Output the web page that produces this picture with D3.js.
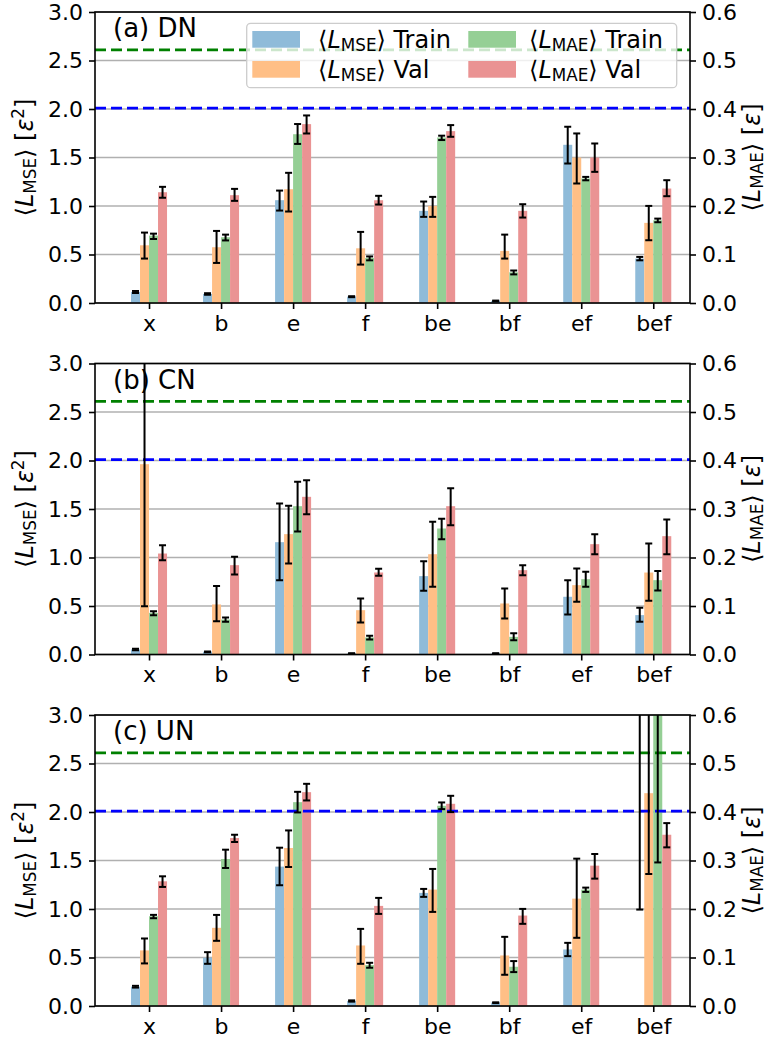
<!DOCTYPE html>
<html>
<head>
<meta charset="utf-8">
<script src="https://cdn.jsdelivr.net/npm/d3@7"></script>
<style>
  html, body { margin: 0; padding: 0; background: #ffffff; }
  svg { display: block; }
  text { font-family: "DejaVu Sans", sans-serif; fill: #000; }
</style>
</head>
<body>
<svg id="chart" width="769" height="1042"></svg>
<script>
// ---- data -------------------------------------------------------------
const categories = ["x", "b", "e", "f", "be", "bf", "ef", "bef"];
const mseTicks = [0, 0.5, 1.0, 1.5, 2.0, 2.5, 3.0];
const maeTicks = [0, 0.1, 0.2, 0.3, 0.4, 0.5, 0.6];
const panelTitles = ["(a) DN", "(b) CN", "(c) UN"];
const refLinesMse = [2.61, 2.01];           // reference levels on the MSE axis
const refLineColors = ["#008000", "#0000ff"];

// (a) DN — MSE on left axis, MAE on right axis; errors given as [low, high]
const dnMseTrain = [0.114, 0.093, 1.06, 0.065, 0.95, 0.021, 1.631, 0.458];
const dnMseTrainErr = [[0.103, 0.124], [0.085, 0.101], [0.953, 1.159], [0.06, 0.07], [0.888, 1.046], [0.017, 0.025], [1.438, 1.817], [0.44, 0.475]];
const dnMseVal = [0.595, 0.575, 1.173, 0.564, 1.001, 0.537, 1.50, 0.826];
const dnMseValErr = [[0.458, 0.726], [0.413, 0.743], [0.943, 1.342], [0.396, 0.733], [0.888, 1.094], [0.458, 0.705], [1.232, 1.748], [0.647, 1.001]];
const dnMaeTrain = [0.139, 0.1356, 0.348, 0.0929, 0.3413, 0.0633, 0.2567, 0.1706];
const dnMaeTrainErr = [[0.132, 0.143], [0.129, 0.141], [0.328, 0.369], [0.088, 0.096], [0.336, 0.345], [0.059, 0.067], [0.253, 0.260], [0.1665, 0.174]];
const dnMaeVal = [0.2284, 0.2223, 0.3688, 0.2119, 0.3544, 0.19, 0.30, 0.236];
const dnMaeValErr = [[0.217, 0.2395], [0.2106, 0.2353], [0.3495, 0.3867], [0.203, 0.221], [0.3427, 0.3668], [0.1762, 0.2037], [0.2704, 0.3289], [0.2202, 0.2532]];

// (b) CN
const cnMseTrain = [0.052, 0.028, 1.158, 0.010, 0.808, 0.010, 0.595, 0.406];
const cnMseTrainErr = [[0.045, 0.058], [0.023, 0.032], [0.766, 1.557], [0.008, 0.013], [0.656, 0.962], [0.008, 0.013], [0.412, 0.766], [0.337, 0.481]];
const cnMseVal = [1.962, 0.516, 1.241, 0.457, 1.034, 0.526, 0.715, 0.845];
const cnMseValErr = [[0.498, 3.426], [0.344, 0.705], [0.938, 1.533], [0.33, 0.577], [0.698, 1.368], [0.371, 0.68], [0.543, 0.887], [0.553, 1.144]];
const cnMaeTrain = [0.0859, 0.0722, 0.3058, 0.0351, 0.2598, 0.0364, 0.1553, 0.1533];
const cnMaeTrainErr = [[0.0811, 0.0893], [0.0674, 0.0763], [0.2536, 0.356], [0.0309, 0.0385], [0.2378, 0.2797], [0.0296, 0.044], [0.1395, 0.1704], [0.132, 0.172]];
const cnMaeVal = [0.2082, 0.1842, 0.3251, 0.1691, 0.3058, 0.1739, 0.2275, 0.244];
const cnMaeValErr = [[0.1945, 0.2254], [0.165, 0.2014], [0.2893, 0.3595], [0.1622, 0.1766], [0.2667, 0.343], [0.1636, 0.1842], [0.2069, 0.2481], [0.2069, 0.2784]];

// (c) UN — the MSE train mean for "bef" is undefined (no bar), only its spread
const unMseTrain = [0.199, 0.497, 1.437, 0.051, 1.166, 0.034, 0.583, null];
const unMseTrainErr = [[0.19, 0.208], [0.435, 0.555], [1.245, 1.632], [0.045, 0.058], [1.125, 1.207], [0.03, 0.038], [0.514, 0.651], [0.994, 4.2]];
const unMseVal = [0.573, 0.806, 1.629, 0.624, 1.20, 0.521, 1.107, 2.194];
const unMseValErr = [[0.439, 0.696], [0.672, 0.939], [1.433, 1.81], [0.435, 0.795], [0.97, 1.413], [0.322, 0.713], [0.703, 1.519], [1.361, 3.027]];
const unMaeTrain = [0.1851, 0.3031, 0.4203, 0.0843, 0.4128, 0.0809, 0.24, 0.80];
const unMaeTrainErr = [[0.181, 0.1879], [0.2846, 0.3223], [0.3991, 0.4416], [0.0789, 0.0891], [0.4059, 0.4197], [0.0699, 0.0926], [0.2352, 0.2441], [0.296, 1.30]];
const unMaeVal = [0.2571, 0.3463, 0.4409, 0.2064, 0.4169, 0.1865, 0.2894, 0.3531];
const unMaeValErr = [[0.2455, 0.2674], [0.3381, 0.3531], [0.4238, 0.4581], [0.1899, 0.2229], [0.3998, 0.4334], [0.1694, 0.2002], [0.2626, 0.3134], [0.3271, 0.3771]];

const seriesNames = ["Train", "Val", "Train", "Val"];
const seriesLoss = ["MSE", "MSE", "MAE", "MAE"];
const seriesColors = ["#8fbbd9", "#ffbf86", "#95cf95", "#ea9393"];

const panels = [
  { values: [dnMseTrain, dnMseVal, dnMaeTrain, dnMaeVal], errs: [dnMseTrainErr, dnMseValErr, dnMaeTrainErr, dnMaeValErr] },
  { values: [cnMseTrain, cnMseVal, cnMaeTrain, cnMaeVal], errs: [cnMseTrainErr, cnMseValErr, cnMaeTrainErr, cnMaeValErr] },
  { values: [unMseTrain, unMseVal, unMaeTrain, unMaeVal], errs: [unMseTrainErr, unMseValErr, unMaeTrainErr, unMaeValErr] }
];

// ---- layout -------------------------------------------------------------
const FONT_TICK = 22, FONT_LABEL = 24, FONT_LEGEND = 24, FONT_TITLE = 26;
const plotLeft = 95, plotRight = 690, plotH = 291;
const panelTops = [12, 363.5, 715];
const barW = 0.125;

const svg = d3.select("#chart");
svg.append("rect").attr("width", 769).attr("height", 1042).attr("fill", "#fff");

const x = d3.scaleLinear().domain([-0.75, 7.51]).range([plotLeft, plotRight]);

// writes text made of plain, italic, subscript and superscript runs
function mathText(sel, parts, fs) {
  let cur = 0;
  parts.forEach(p => {
    const ts = sel.append("tspan").text(p.t);
    let target = 0;
    if (p.sub) { target = 0.13 * fs; ts.attr("font-size", fs * 0.7); }
    if (p.sup) { target = -0.36 * fs; ts.attr("font-size", fs * 0.7); }
    if (target !== cur) { ts.attr("dy", target - cur); cur = target; }
    if (p.it) ts.attr("font-style", "italic");
  });
}

panels.forEach((panel, pi) => {
  const top = panelTops[pi];
  const bottom = top + plotH;
  const yMse = d3.scaleLinear().domain([0, 3]).range([bottom, top]);
  const yMae = d3.scaleLinear().domain([0, 0.6]).range([bottom, top]);
  const yScales = [yMse, yMse, yMae, yMae];

  const g = svg.append("g");
  const clipId = "clip" + pi;
  g.append("clipPath").attr("id", clipId)
    .append("rect").attr("x", plotLeft).attr("y", top)
    .attr("width", plotRight - plotLeft).attr("height", plotH);

  // grid
  g.append("g").selectAll("line").data(mseTicks).join("line")
    .attr("x1", plotLeft).attr("x2", plotRight)
    .attr("y1", d => yMse(d)).attr("y2", d => yMse(d))
    .attr("stroke", "#b0b0b0").attr("stroke-width", 1.5);

  const plot = g.append("g").attr("clip-path", `url(#${clipId})`);

  // bars
  panel.values.forEach((vals, si) => {
    const y = yScales[si];
    const off = (si - 1.5) * barW;
    plot.append("g").selectAll("rect")
      .data(vals.map((v, i) => ({ v, i })).filter(d => d.v !== null))
      .join("rect")
      .attr("x", d => x(d.i + off - barW / 2))
      .attr("width", x(barW) - x(0))
      .attr("y", d => y(d.v))
      .attr("height", d => y(0) - y(d.v))
      .attr("fill", seriesColors[si]);
  });

  // reference levels
  refLinesMse.forEach((lv, k) => {
    plot.append("line")
      .attr("x1", plotLeft).attr("x2", plotRight)
      .attr("y1", yMse(lv)).attr("y2", yMse(lv))
      .attr("stroke", refLineColors[k]).attr("stroke-width", 2.7)
      .attr("stroke-dasharray", "11,5");
  });

  // error bars
  panel.errs.forEach((errs, si) => {
    const y = yScales[si];
    const off = (si - 1.5) * barW;
    const eg = plot.append("g").attr("stroke", "#000").attr("stroke-width", 2);
    errs.forEach((e, i) => {
      const cx = x(i + off);
      eg.append("line").attr("x1", cx).attr("x2", cx).attr("y1", y(e[0])).attr("y2", y(e[1]));
      [e[0], e[1]].forEach(v => {
        eg.append("line").attr("x1", cx - 3.5).attr("x2", cx + 3.5).attr("y1", y(v)).attr("y2", y(v));
      });
    });
  });

  // axes
  const styleAxis = a => {
    a.select(".domain").remove();
    a.selectAll(".tick line").attr("stroke", "#000").attr("stroke-width", 1.6);
    a.selectAll(".tick text").attr("font-size", FONT_TICK).attr("font-family", "DejaVu Sans").attr("fill", "#000");
  };
  const axL = g.append("g").attr("transform", `translate(${plotLeft},0)`)
    .call(d3.axisLeft(yMse).tickValues(mseTicks).tickFormat(d3.format(".1f")).tickSize(6).tickPadding(6));
  styleAxis(axL);
  const axR = g.append("g").attr("transform", `translate(${plotRight},0)`)
    .call(d3.axisRight(yMae).tickValues(maeTicks).tickFormat(d3.format(".1f")).tickSize(6).tickPadding(6));
  styleAxis(axR);
  const axB = g.append("g").attr("transform", `translate(0,${bottom})`)
    .call(d3.axisBottom(x).tickValues(d3.range(categories.length)).tickFormat(i => categories[i]).tickSize(6).tickPadding(6));
  styleAxis(axB);

  // frame
  g.append("rect").attr("x", plotLeft).attr("y", top)
    .attr("width", plotRight - plotLeft).attr("height", plotH)
    .attr("fill", "none").attr("stroke", "#000").attr("stroke-width", 1.6);

  // panel title
  g.append("text").attr("x", 113).attr("y", top + 25)
    .attr("font-size", FONT_TITLE).text(panelTitles[pi]);

  // axis labels
  const midY = (top + bottom) / 2;
  const lt = g.append("text").attr("font-size", FONT_LABEL).attr("text-anchor", "middle")
    .attr("transform", `translate(33,${midY}) rotate(-90)`);
  mathText(lt, [{ t: "⟨" }, { t: "L", it: 1 }, { t: "MSE", sub: 1 }, { t: "⟩ [" }, { t: "ε", it: 1 }, { t: "2", sup: 1 }, { t: "]" }], FONT_LABEL);
  const rt = g.append("text").attr("font-size", FONT_LABEL).attr("text-anchor", "middle")
    .attr("transform", `translate(760,${midY}) rotate(-90)`);
  mathText(rt, [{ t: "⟨" }, { t: "L", it: 1 }, { t: "MAE", sub: 1 }, { t: "⟩ [" }, { t: "ε", it: 1 }, { t: "]" }], FONT_LABEL);

  // legend (first panel only)
  if (pi === 0) {
    const lg = g.append("g");
    lg.append("rect").attr("x", 246.7).attr("y", 23.3).attr("width", 430).attr("height", 64.4)
      .attr("rx", 4).attr("fill", "#fff").attr("fill-opacity", 0.8)
      .attr("stroke", "#cccccc").attr("stroke-width", 1.3);
    const colX = [252.3, 468.3], textX = [318, 529], rowY = [31, 61], baseY = [48.3, 78];
    seriesNames.forEach((name, si) => {
      const c = Math.floor(si / 2), r = si % 2;
      lg.append("rect").attr("x", colX[c]).attr("y", rowY[r]).attr("width", 47.7).attr("height", 16.7)
        .attr("fill", seriesColors[si]);
      const t = lg.append("text").attr("x", textX[c]).attr("y", baseY[r]).attr("font-size", FONT_LEGEND);
      mathText(t, [{ t: "⟨" }, { t: "L", it: 1 }, { t: seriesLoss[si], sub: 1 }, { t: "⟩ " + name }], FONT_LEGEND);
    });
  }
});
</script>
</body>
</html>
